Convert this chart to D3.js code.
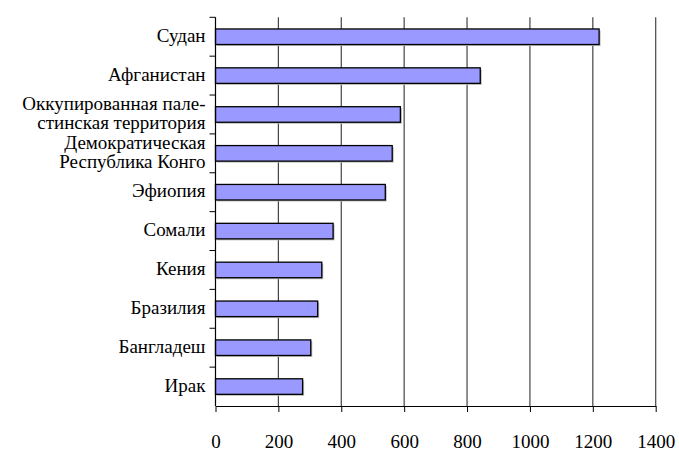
<!DOCTYPE html>
<html><head><meta charset="utf-8">
<script src="https://cdn.jsdelivr.net/npm/d3@7"></script>
<style>
body{margin:0;background:#fff}
svg{display:block}
svg text, svg tspan{font-family:"Liberation Serif" !important;}
</style>
</head><body>
<svg id="c" width="679" height="450" font-family="Liberation Serif"></svg>
<script>
const categories = [
  ["Судан"],
  ["Афганистан"],
  ["Оккупированная пале-", "стинская территория"],
  ["Демократическая", "Республика Конго"],
  ["Эфиопия"],
  ["Сомали"],
  ["Кения"],
  ["Бразилия"],
  ["Бангладеш"],
  ["Ирак"]
];
const values = [1220, 842, 588, 562, 540, 374, 338, 325, 303, 277];
const xTicks = [0, 200, 400, 600, 800, 1000, 1200, 1400];

const svg = d3.select("#c");
const mLeft = 215.5, mRight = 655.7, mTop = 17.3, mBottom = 406;
const x = d3.scaleLinear().domain([0, 1400]).range([mLeft, mRight]);
const y = d3.scaleBand().domain(d3.range(categories.length)).range([mTop, mBottom]).paddingInner(0.6).paddingOuter(0.3);
const fam = "Liberation Serif";
const fs = "19px";

// gridlines
svg.append("g").selectAll("line").data(xTicks.slice(1)).join("line")
  .attr("x1", d => x(d)).attr("x2", d => x(d)).attr("y1", mTop).attr("y2", mBottom)
  .attr("stroke", "#444").attr("stroke-width", 1.2);

// bar shadows
svg.append("g").selectAll("rect").data(values).join("rect")
  .attr("x", x(0) + 1.5).attr("y", (d, i) => y(i) + 1.5)
  .attr("width", d => x(d) - x(0)).attr("height", y.bandwidth())
  .attr("fill", "#bbb");

// bars
svg.append("g").selectAll("rect").data(values).join("rect")
  .attr("x", x(0)).attr("y", (d, i) => y(i))
  .attr("width", d => x(d) - x(0)).attr("height", y.bandwidth())
  .attr("fill", "#9999FF").attr("stroke", "#000").attr("stroke-width", 1.3);

// x axis
const xa = svg.append("g").attr("transform", `translate(0,${mBottom})`)
  .call(d3.axisBottom(x).tickValues(xTicks).tickFormat(d3.format("d")).tickSize(6).tickSizeOuter(0));
xa.attr("font-family", fam).attr("font-size", 19);
xa.select(".domain").attr("stroke", "#000").attr("stroke-width", 1.2);
xa.selectAll(".tick line").attr("stroke", "#000");
xa.selectAll(".tick text")
  .attr("font-family", fam).style("font-family", '"Liberation Serif"').style("font-size", fs)
  .attr("fill", "#000").attr("y", 42).attr("dy", 0);

// y axis line + ticks at band boundaries
const step = (mBottom - mTop) / categories.length;
svg.append("line").attr("x1", mLeft).attr("x2", mLeft).attr("y1", mTop).attr("y2", mBottom)
  .attr("stroke", "#000").attr("stroke-width", 1.2);
svg.append("g").selectAll("line").data(d3.range(categories.length)).join("line")
  .attr("x1", mLeft - 6).attr("x2", mLeft).attr("y1", d => mTop + d * step).attr("y2", d => mTop + d * step)
  .attr("stroke", "#000");

// category labels
const lab = svg.append("g").attr("font-family", fam).selectAll("text").data(categories).join("text")
  .attr("font-family", fam).style("font-family", '"Liberation Serif"').style("font-size", fs).attr("fill", "#000")
  .attr("text-anchor", "end");
lab.each(function (lines, i) {
  const cy = y(i) + y.bandwidth() / 2;
  const lh = 18.5;
  const t = d3.select(this);
  lines.forEach((s, k) => {
    t.append("tspan").attr("x", mLeft - 10)
      .attr("y", cy + (k - (lines.length - 1) / 2) * lh + 5)
      .text(s);
  });
});
</script>
</body></html>
